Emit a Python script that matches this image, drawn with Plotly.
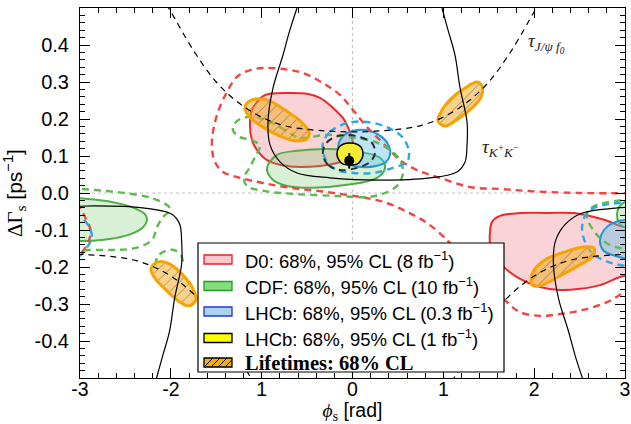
import plotly.graph_objects as go

# ---------------- data: (phi_s [rad], DeltaGamma_s [ps^-1]) ----------------
# D0 (8 fb^-1)
d0_68_main_phi = [-0.908, -0.721, -0.501, -0.358, -0.215, -0.105, -0.050, 0.006, -0.006, -0.171, -0.358, -0.721, -0.941, -1.051, -1.107, -1.129, -1.107, -1.051, -0.985]
d0_68_main_dg = [0.268, 0.270, 0.268, 0.257, 0.230, 0.203, 0.178, 0.135, 0.097, 0.081, 0.073, 0.073, 0.089, 0.116, 0.143, 0.189, 0.224, 0.246, 0.262]
d0_68_right_phi = [1.514, 1.536, 1.624, 1.844, 2.141, 2.428, 2.615, 2.780, 2.945, 3.220, 3.220, 2.945, 2.725, 2.505, 2.285, 2.064, 1.844, 1.679, 1.569, 1.514]
d0_68_right_dg = [-0.105, -0.078, -0.062, -0.054, -0.054, -0.054, -0.062, -0.073, -0.089, -0.111, -0.208, -0.227, -0.249, -0.259, -0.262, -0.254, -0.232, -0.203, -0.168, -0.135]
d0_95_main_phi = [1.184, 1.040, 0.820, 0.600, 0.380, 0.160, -0.061, -0.358, -0.688, -0.985, -1.239, -1.426, -1.514, -1.547, -1.536, -1.481, -1.382, -1.272, -1.129, -0.985, -0.765, -0.545, -0.325, -0.138, 0.006, 0.160, 0.336, 0.523, 0.710, 0.963, 1.294, 1.624, 1.954, 2.505, 3.220]
d0_95_main_dg = [-0.168, -0.127, -0.081, -0.051, -0.027, -0.014, -0.005, 0.005, 0.014, 0.027, 0.041, 0.057, 0.084, 0.122, 0.165, 0.219, 0.273, 0.314, 0.332, 0.338, 0.335, 0.324, 0.297, 0.265, 0.224, 0.178, 0.135, 0.089, 0.062, 0.041, 0.016, 0.011, 0.005, 0.0, 0.0]
d0_95_right_phi = [1.569, 1.701, 1.844, 2.064, 2.285, 2.538, 2.802, 2.978, 3.220]
d0_95_right_dg = [-0.262, -0.295, -0.322, -0.332, -0.327, -0.316, -0.295, -0.270, -0.235]
d0_95_left_phi = [-3.055, -3.000, -2.945, -2.890, -2.890, -2.923, -2.978, -3.055]
d0_95_left_dg = [-0.032, -0.041, -0.065, -0.095, -0.119, -0.141, -0.159, -0.170]

# CDF (10 fb^-1)
cdf_68_main_phi = [-0.941, -0.831, -0.611, -0.248, 0.083, 0.303, 0.358, 0.270, -0.061, -0.435, -0.721, -0.886]
cdf_68_main_dg = [0.068, 0.103, 0.114, 0.119, 0.111, 0.095, 0.068, 0.041, 0.022, 0.014, 0.019, 0.038]
cdf_68_left_phi = [-3.110, -3.000, -2.692, -2.428, -2.285, -2.263, -2.318, -2.505, -2.758, -3.000, -3.110]
cdf_68_left_dg = [-0.011, -0.014, -0.022, -0.038, -0.057, -0.073, -0.095, -0.116, -0.127, -0.130, -0.130]
cdf_68_right_phi = [3.220, 3.000, 2.934, 2.912, 2.934, 3.022, 3.220]
cdf_68_right_dg = [-0.019, -0.024, -0.038, -0.059, -0.081, -0.095, -0.100]
cdf_95_main_phi = [-0.578, -0.743, -0.908, -1.073, -1.206, -1.294, -1.316, -1.239, -1.107, -1.018, -1.062, -1.129, -1.195, -1.162, -0.963, -0.611, -0.171, 0.160, 0.358, 0.501, 0.556, 0.523, 0.413, 0.248, -0.028, -0.303]
cdf_95_main_dg = [0.149, 0.170, 0.192, 0.205, 0.203, 0.189, 0.170, 0.151, 0.143, 0.127, 0.103, 0.070, 0.041, 0.019, 0.005, -0.003, -0.008, -0.011, 0.0, 0.022, 0.054, 0.089, 0.116, 0.138, 0.151, 0.157]
cdf_95_left_phi = [-3.110, -3.000, -2.835, -2.505, -2.208, -2.031, -2.009, -2.086, -2.152, -2.208, -2.395, -2.648, -2.912, -3.000, -3.110]
cdf_95_left_dg = [0.011, 0.011, 0.008, 0.0, -0.014, -0.035, -0.046, -0.065, -0.092, -0.127, -0.149, -0.154, -0.154, -0.157, -0.159]
cdf_95_lobe_phi = [-2.174, -2.141, -2.064, -1.965, -1.888, -1.866]
cdf_95_lobe_dg = [-0.195, -0.170, -0.157, -0.154, -0.168, -0.186]
cdf_95_right_phi = [3.220, 2.978, 2.835, 2.692, 2.593, 2.582, 2.637, 2.725, 2.857, 3.011, 3.220]
cdf_95_right_dg = [-0.016, -0.019, -0.024, -0.032, -0.049, -0.068, -0.095, -0.122, -0.143, -0.151, -0.154]

# LHCb (0.3 fb^-1)
lhcb03_68_main_phi = [-0.160, -0.138, -0.061, 0.050, 0.193, 0.325, 0.402, 0.413, 0.369, 0.259, 0.105, -0.028, -0.127]
lhcb03_68_main_dg = [0.116, 0.143, 0.162, 0.170, 0.168, 0.151, 0.127, 0.103, 0.084, 0.073, 0.070, 0.076, 0.092]
lhcb03_68_right_phi = [3.220, 3.000, 2.868, 2.769, 2.725, 2.758, 2.890, 3.220]
lhcb03_68_right_dg = [-0.078, -0.073, -0.081, -0.100, -0.127, -0.154, -0.170, -0.176]
lhcb03_95_main_phi = [-0.325, -0.248, -0.061, 0.160, 0.380, 0.556, 0.622, 0.600, 0.446, 0.226, 0.006, -0.171, -0.281, -0.325]
lhcb03_95_main_dg = [0.135, 0.165, 0.189, 0.192, 0.178, 0.149, 0.111, 0.084, 0.068, 0.054, 0.054, 0.062, 0.084, 0.111]
lhcb03_95_right_phi = [3.220, 2.945, 2.780, 2.637, 2.560, 2.527, 2.560, 2.648, 2.813, 3.011, 3.220]
lhcb03_95_right_dg = [-0.024, -0.027, -0.032, -0.043, -0.062, -0.095, -0.132, -0.165, -0.186, -0.197, -0.197]
lhcb03_95_left_phi = [-3.055, -3.000, -2.912, -2.868, -2.912, -2.978, -3.055]
lhcb03_95_left_dg = [-0.051, -0.062, -0.086, -0.119, -0.143, -0.165, -0.176]

# LHCb (1 fb^-1)
lhcb1_68_phi = [-0.171, -0.149, -0.105, -0.028, 0.050, 0.094, 0.116, 0.094, 0.050, -0.028, -0.105, -0.149]
lhcb1_68_dg = [0.105, 0.124, 0.132, 0.135, 0.132, 0.124, 0.105, 0.089, 0.078, 0.076, 0.078, 0.089]
lhcb1_95_phi = [-0.325, -0.270, -0.138, 0.050, 0.193, 0.248, 0.215, 0.083, -0.061, -0.215, -0.303]
lhcb1_95_dg = [0.103, 0.076, 0.062, 0.068, 0.084, 0.108, 0.135, 0.151, 0.157, 0.149, 0.130]

# Lifetime constraints (68% CL)
life_a_phi = [-1.162, -1.073, -0.930, -0.743, -0.578, -0.479, -0.501, -0.622, -0.798, -0.985, -1.129, -1.184]
life_a_dg = [0.243, 0.254, 0.251, 0.224, 0.195, 0.165, 0.146, 0.141, 0.154, 0.178, 0.205, 0.227]
life_b_phi = [0.941, 0.985, 1.095, 1.239, 1.371, 1.426, 1.415, 1.316, 1.162, 1.018]
life_b_dg = [0.195, 0.224, 0.257, 0.284, 0.300, 0.289, 0.259, 0.230, 0.200, 0.181]
life_c_phi = [-2.218, -2.141, -2.009, -1.866, -1.756, -1.723, -1.800, -1.932, -2.075, -2.185]
life_c_dg = [-0.203, -0.186, -0.192, -0.222, -0.259, -0.289, -0.305, -0.289, -0.257, -0.227]
life_d_phi = [1.965, 2.009, 2.141, 2.340, 2.538, 2.659, 2.648, 2.483, 2.262, 2.086, 1.987]
life_d_dg = [-0.235, -0.205, -0.178, -0.159, -0.146, -0.149, -0.170, -0.197, -0.227, -0.249, -0.251]

# tau(K+K-) curve and its two copies
tkk_phi = [-0.611, -0.690, -0.765, -0.875, -0.930, -0.908, -0.798, -0.611, -0.248, 0.303, 0.854, 1.150, 1.239, 1.261, 1.261, 1.184, 1.128, 1.051, 0.985]
tkk_dg = [0.500, 0.440, 0.373, 0.284, 0.192, 0.130, 0.084, 0.054, 0.041, 0.035, 0.041, 0.057, 0.084, 0.130, 0.192, 0.284, 0.373, 0.441, 0.500]
tkk_left_phi = [-3.390, -2.839, -2.288, -1.992, -1.903, -1.881, -1.881, -1.958, -2.014, -2.091, -2.157]
tkk_left_dg = [-0.041, -0.035, -0.041, -0.057, -0.084, -0.130, -0.192, -0.284, -0.373, -0.441, -0.500]
tkk_right_phi = [2.531, 2.452, 2.377, 2.267, 2.212, 2.234, 2.344, 2.531, 2.894, 3.445]
tkk_right_dg = [-0.500, -0.440, -0.373, -0.284, -0.192, -0.130, -0.084, -0.054, -0.041, -0.035]

# tau(J/psi f0) curve and its two copies
tjf_phi = [-2.05, -2.0, -1.75, -1.5, -1.25, -1.0, -0.75, -0.5, -0.25, 0.0, 0.25, 0.5, 0.75, 1.0, 1.25, 1.5, 1.75, 2.0, 2.05]
tjf_dg = [0.510, 0.490, 0.385, 0.300, 0.243, 0.205, 0.182, 0.172, 0.167, 0.165, 0.167, 0.172, 0.182, 0.205, 0.243, 0.300, 0.385, 0.490, 0.510]
tjf_left_phi = [-3.392, -3.142, -2.892, -2.642, -2.392, -2.142, -1.892, -1.642, -1.392, -1.142, -1.092]
tjf_left_dg = [-0.167, -0.165, -0.167, -0.172, -0.182, -0.205, -0.243, -0.300, -0.385, -0.490, -0.510]
tjf_right_phi = [1.092, 1.142, 1.392, 1.642, 1.892, 2.142, 2.392, 2.642, 2.892, 3.142, 3.392]
tjf_right_dg = [-0.510, -0.490, -0.385, -0.300, -0.243, -0.205, -0.182, -0.172, -0.167, -0.165, -0.167]

# Standard Model prediction
sm_phi = [-0.036]
sm_dg = [0.087]
sm_dg_err = [0.021]

# axis ticks
x_tickvals = [-3, -2, -1, 0, 1, 2, 3]
x_ticktext = ["-3", "-2", "1", "0", "1", "2", "3"]
y_tickvals = [-0.4, -0.3, -0.2, -0.1, 0.0, 0.1, 0.2, 0.3, 0.4]
y_ticktext = ["-0.4", "-0.3", "-0.2", "-0.1", "0.0", "0.1", "0.2", "0.3", "0.4"]

legend_labels = [
    "D0: 68%, 95% CL (8 fb<sup>−1</sup>)",
    "CDF: 68%, 95% CL (10 fb<sup>−1</sup>)",
    "LHCb: 68%, 95% CL (0.3 fb<sup>−1</sup>)",
    "LHCb: 68%, 95% CL (1 fb<sup>−1</sup>)",
    "<b>Lifetimes: 68% CL</b>",
]

# ---------------- styles ----------------
RED = "#ec2a2e"
RED_D = "#f04545"
PINK = "rgba(240,110,120,0.30)"
GREEN = "#4fae45"
GREEN_D = "#5cbb4c"
LGREEN = "rgba(110,200,100,0.27)"
BLUE = "#1b98d8"
BLUE_D = "#2aa9e2"
LBLUE = "rgba(90,190,235,0.40)"
YELLOW = "#f7ec34"
ORANGE = "#f7a400"
ORANGE_FILL = "rgba(244,172,35,0.52)"

fig = go.Figure()


def closed(a):
    return list(a) + [a[0]]


def region(phi, dg, fill, line_color, width, name, pattern=None):
    kw = {}
    if pattern:
        kw["fillpattern"] = pattern
    fig.add_trace(go.Scatter(
        x=closed(phi), y=closed(dg), mode="lines", fill="toself", fillcolor=fill,
        line=dict(color=line_color, width=width, shape="spline", smoothing=1.0),
        name=name, showlegend=False, hoverinfo="skip", **kw))


def dashed(phi, dg, color, name, close=False, width=2.4):
    x = closed(phi) if close else phi
    y = closed(dg) if close else dg
    fig.add_trace(go.Scatter(
        x=x, y=y, mode="lines",
        line=dict(color=color, width=width, dash="7px,5px", shape="spline", smoothing=1.0),
        name=name, showlegend=False, hoverinfo="skip"))


# 68% filled regions
region(d0_68_main_phi, d0_68_main_dg, PINK, RED, 2, "D0 68%")
region(d0_68_right_phi, d0_68_right_dg, PINK, RED, 2, "D0 68%")
region(cdf_68_main_phi, cdf_68_main_dg, LGREEN, GREEN, 2, "CDF 68%")
region(cdf_68_left_phi, cdf_68_left_dg, LGREEN, GREEN, 2, "CDF 68%")
region(cdf_68_right_phi, cdf_68_right_dg, LGREEN, GREEN, 2, "CDF 68%")
region(lhcb03_68_main_phi, lhcb03_68_main_dg, LBLUE, BLUE, 2, "LHCb 0.3 68%")
region(lhcb03_68_right_phi, lhcb03_68_right_dg, LBLUE, BLUE, 2, "LHCb 0.3 68%")

# 95% contours
dashed(d0_95_main_phi, d0_95_main_dg, RED_D, "D0 95%")
dashed(d0_95_right_phi, d0_95_right_dg, RED_D, "D0 95%")
dashed(d0_95_left_phi, d0_95_left_dg, RED_D, "D0 95%")
dashed(cdf_95_main_phi, cdf_95_main_dg, GREEN_D, "CDF 95%", close=True)
dashed(cdf_95_left_phi, cdf_95_left_dg, GREEN_D, "CDF 95%")
dashed(cdf_95_lobe_phi, cdf_95_lobe_dg, GREEN_D, "CDF 95%")
dashed(cdf_95_right_phi, cdf_95_right_dg, GREEN_D, "CDF 95%")
dashed(lhcb03_95_main_phi, lhcb03_95_main_dg, BLUE_D, "LHCb 0.3 95%", close=True)
dashed(lhcb03_95_right_phi, lhcb03_95_right_dg, BLUE_D, "LHCb 0.3 95%")
dashed(lhcb03_95_left_phi, lhcb03_95_left_dg, BLUE_D, "LHCb 0.3 95%")

# LHCb 1 fb^-1
region(lhcb1_68_phi, lhcb1_68_dg, YELLOW, "black", 1.6, "LHCb 1 68%")
dashed(lhcb1_95_phi, lhcb1_95_dg, "#2b2b2b", "LHCb 1 95%", close=True, width=2)

# lifetime ellipses
hatch = dict(shape="/", bgcolor=ORANGE_FILL, fgcolor="#3a2a10", size=8, solidity=0.1)
for ph, dg in [(life_a_phi, life_a_dg), (life_b_phi, life_b_dg), (life_c_phi, life_c_dg), (life_d_phi, life_d_dg)]:
    region(ph, dg, ORANGE_FILL, ORANGE, 3, "Lifetimes 68%", pattern=hatch)

# theory curves
for ph, dg in [(tjf_phi, tjf_dg), (tjf_left_phi, tjf_left_dg), (tjf_right_phi, tjf_right_dg)]:
    fig.add_trace(go.Scatter(x=ph, y=dg, mode="lines", showlegend=False, hoverinfo="skip",
                             name="tau J/psi f0",
                             line=dict(color="black", width=1.2, dash="6px,5px", shape="spline")))
for ph, dg in [(tkk_phi, tkk_dg), (tkk_left_phi, tkk_left_dg), (tkk_right_phi, tkk_right_dg)]:
    fig.add_trace(go.Scatter(x=ph, y=dg, mode="lines", showlegend=False, hoverinfo="skip",
                             name="tau KK",
                             line=dict(color="black", width=1.2, shape="spline")))

# SM point
fig.add_trace(go.Scatter(x=sm_phi, y=sm_dg, mode="markers", showlegend=False, name="SM",
                         marker=dict(color="black", size=10),
                         error_y=dict(type="data", array=sm_dg_err, color="black", thickness=2, width=0)))

# ---------------- layout ----------------
W, H = 631, 424
L, R, T, B = 80, 6, 8, 46
PW, PH = W - L - R, H - T - B


def px(x):
    return (x - L) / PW


def py(y):
    return (H - B - y) / PH


shapes = [
    dict(type="line", xref="x", yref="paper", x0=0, x1=0, y0=0, y1=1,
         line=dict(color="#c4c4c4", width=1.2, dash="dot"), layer="below"),
    dict(type="line", xref="paper", yref="y", x0=0, x1=1, y0=0, y1=0,
         line=dict(color="#c4c4c4", width=1.2, dash="dot"), layer="below"),
    # legend box
    dict(type="rect", xref="paper", yref="paper", x0=px(198), x1=px(504), y0=py(372), y1=py(243),
         fillcolor="white", line=dict(color="black", width=1.2), layer="above"),
]
swatches = [
    ("rgb(255,200,205)", "#ee1c24"),
    ("rgb(135,220,125)", "#1f9a2c"),
    ("rgb(170,212,232)", "#2233ee"),
    ("rgb(255,255,0)", "black"),
    ("rgb(240,175,20)", "black"),
]
centers = [259.5, 286, 311.5, 338, 362.5]
annotations = []
for (fc, lc), cy, lab in zip(swatches, centers, legend_labels):
    shapes.append(dict(type="rect", xref="paper", yref="paper", x0=px(204), x1=px(232),
                       y0=py(cy + 4.5), y1=py(cy - 4.5), fillcolor=fc,
                       line=dict(color=lc, width=1.3), layer="above"))
    is_bold = lab.startswith("<b>")
    annotations.append(dict(
        xref="paper", yref="paper", x=px(243), y=py(cy), xanchor="left", yanchor="middle",
        text=lab, showarrow=False,
        font=dict(family="Liberation Serif" if is_bold else "Liberation Sans",
                  size=20.5 if is_bold else 18.5, color="black")))
# hatch lines in the lifetime swatch
cy = centers[-1]
for x0 in [204, 211, 218, 225]:
    x1 = min(x0 + 9, 232)
    y_end = cy + 4.5 - (x1 - x0)
    shapes.append(dict(type="line", xref="paper", yref="paper", x0=px(x0), x1=px(x1),
                       y0=py(cy + 4.5), y1=py(y_end), line=dict(color="black", width=1), layer="above"))

annotations += [
    dict(xref="x", yref="y", x=1.91, y=0.405, xanchor="left", yanchor="middle", showarrow=False,
         text="<i>τ<sub>J/ψ f<sub>0</sub></sub></i>",
         font=dict(family="Liberation Serif", size=19, color="#222")),
    dict(xref="x", yref="y", x=1.40, y=0.122, xanchor="left", yanchor="middle", showarrow=False,
         text="<i>τ<sub>K<sup>+</sup>K<sup>−</sup></sub></i>",
         font=dict(family="Liberation Serif", size=19, color="#222")),
]

axis_common = dict(showline=True, linecolor="black", linewidth=1, mirror="allticks",
                   ticks="inside", ticklen=10, tickwidth=1, tickcolor="black",
                   showgrid=False, zeroline=False)

fig.update_layout(
    width=W, height=H, margin=dict(l=L, r=R, t=T, b=B, autoexpand=False),
    paper_bgcolor="white", plot_bgcolor="white",
    font=dict(family="Liberation Sans", color="black"),
    showlegend=False,
    xaxis=dict(range=[-3, 3], tickvals=x_tickvals, ticktext=x_ticktext,
               tickfont=dict(family="Liberation Sans", size=19.5, color="black"),
               minor=dict(ticks="inside", ticklen=5, dtick=0.2, tick0=0, tickcolor="black"),
               title=dict(text='<span style="font-family:Liberation Serif"><i>ϕ</i><sub>s</sub></span> [rad]',
                          font=dict(family="Liberation Sans", size=19.5), standoff=7),
               ticklabelstandoff=-6, **axis_common),
    yaxis=dict(range=[-0.5, 0.5], tickvals=y_tickvals, ticktext=y_ticktext,
               tickfont=dict(family="Liberation Sans", size=20, color="black"),
               minor=dict(ticks="inside", ticklen=5, dtick=0.02, tick0=0, tickcolor="black"),
               title=dict(text='<span style="font-family:Liberation Serif">ΔΓ<sub>s</sub></span> [ps<sup>−1</sup>]',
                          font=dict(family="Liberation Sans", size=21), standoff=6),
               ticklabelstandoff=6, **axis_common),
    shapes=shapes,
    annotations=annotations,
)

fig.write_html("out.html")
